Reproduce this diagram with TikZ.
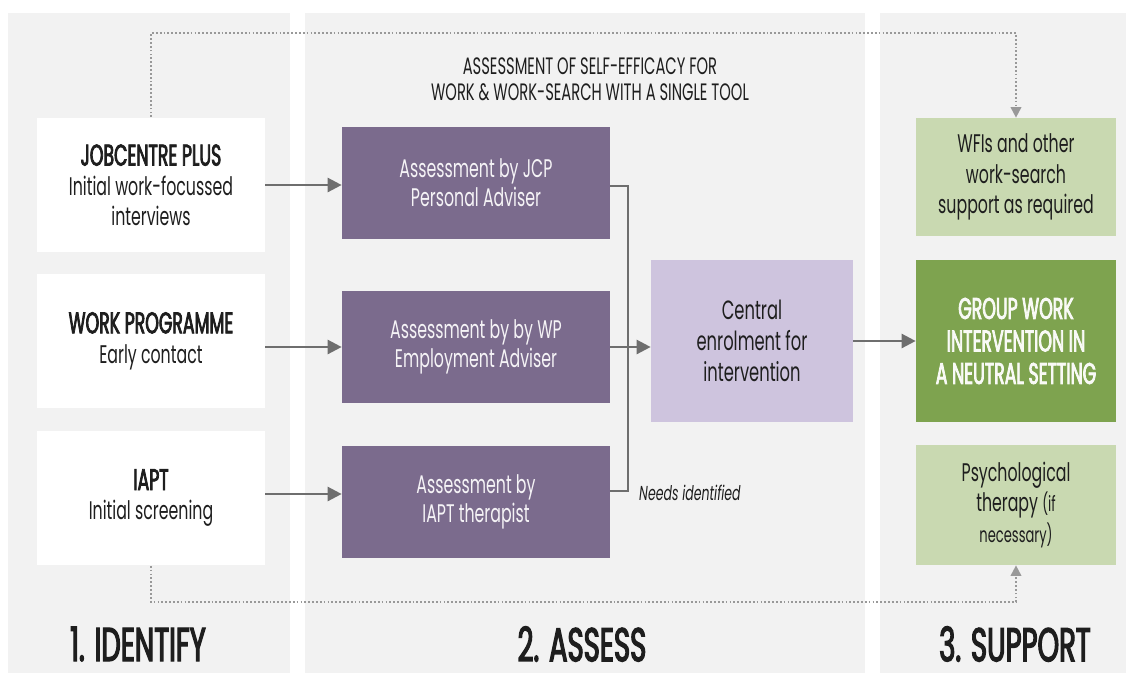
\documentclass[tikz,border=0pt]{standalone}
\usepackage{fontspec}
\setmainfont{Poppins}[FakeStretch=0.62]
\newfontfamily\medfont{Poppins}[FakeStretch=0.58, FakeBold=2.6]
\usetikzlibrary{arrows.meta,positioning}
\definecolor{panelgray}{HTML}{F2F2F2}
\definecolor{plum}{HTML}{7B6B8D}
\definecolor{lilac}{HTML}{CEC4DE}
\definecolor{sage}{HTML}{C9D9B1}
\definecolor{leaf}{HTML}{7EA34F}
\definecolor{linegray}{HTML}{6E6E6E}
\definecolor{ink}{HTML}{1E1E1E}
\newcommand\hd{\fontsize{17}{21}\medfont}

\begin{document}
\begin{tikzpicture}[x=0.02cm, y=-0.02cm,
        panel/.style = {fill=panelgray},
        whitebox/.style = {fill=white, minimum width=4.56cm, minimum height=2.7cm, align=center, text=ink, font=\fontsize{14.5}{17}\selectfont},
        plumbox/.style = {fill=plum, minimum width=5.36cm, minimum height=2.24cm, align=center, text=white!92!plum, font=\fontsize{14.5}{16.5}\selectfont},
        cenbox/.style = {fill=lilac, minimum width=4.04cm, minimum height=3.24cm, align=center, text=ink, font=\fontsize{15}{17.5}\selectfont},
        sagebox/.style = {fill=sage, minimum width=4cm, align=center, text=ink, font=\fontsize{14.5}{17.5}\selectfont},
        leafbox/.style = {fill=leaf, minimum width=4cm, minimum height=3.24cm, align=center, text=white!95!leaf, font=\fontsize{17}{18.5}\medfont},
        stage/.style = {text=ink, inner sep=0pt, font=\fontsize{27}{30}\medfont},
        flow/.style = {draw=linegray, line width=1.4pt, -{Triangle[length=8pt,width=8pt]}},
        plain/.style = {draw=linegray, line width=1.4pt},
        dotline/.style = {draw=linegray!70, line width=1pt, dash pattern=on 1pt off 1.2pt, -{Triangle[length=6pt,width=6pt]}},
        ]
        % background and the three columns
        \fill[white] (0,0) rectangle (1134,673);
        \fill[panel] (8,13) rectangle (290,673);
        \fill[panel] (305,13) rectangle (865,673);
        \fill[panel] (880,13) rectangle (1126,673);

        % 1. identify
        \node[whitebox](jcp) at (151,185) {{\hd JOBCENTRE PLUS}\\Initial work-focussed\\interviews};
        \node[whitebox](wp) at (151,341) {{\hd WORK PROGRAMME}\\Early contact};
        \node[whitebox](iapt) at (151,498) {{\hd IAPT}\\Initial screening};

        % 2. assess
        \node[align=center, text=ink, font=\fontsize{13.5}{15}\selectfont](ttl) at (590,79) {ASSESSMENT OF SELF-EFFICACY FOR\\WORK \& WORK-SEARCH WITH A SINGLE TOOL};
        \node[plumbox](pa) at (476,183) {Assessment by JCP\\Personal Adviser};
        \node[plumbox](pb) at (476,347) {Assessment by by WP\\Employment Adviser};
        \node[plumbox](pc) at (476,502) {Assessment by\\IAPT therapist};
        \node[cenbox](cen) at (752,341) {Central\\enrolment for\\intervention};
        \coordinate (bustop) at (628,186);
        \coordinate (busbot) at (628,491);
        \node[anchor=west, text=ink, font=\fontsize{11.5}{13}\selectfont\itshape](need) at (633,493) {Needs identified};

        % 3. support
        \node[sagebox, minimum height=2.36cm](wfi) at (1016,177) {WFIs and other\\work-search\\support as required};
        \node[leafbox](grp) at (1016,341) {GROUP WORK\\INTERVENTION IN\\A NEUTRAL SETTING};
        \node[sagebox, minimum height=2.4cm](psy) at (1016,505) {Psychological\\therapy {\fontsize{12}{15}\selectfont(if}\\{\fontsize{12}{15}\selectfont necessary)}};

        % stage labels
        \node[stage](s1) at (138,644) {1. IDENTIFY};
        \node[stage](s2) at (582,644) {2. ASSESS};
        \node[stage](s3) at (1015,644) {3. SUPPORT};

        % connectors
        \draw[flow] (jcp.east) -- (jcp.east -| pa.west);
        \draw[flow] (wp.east |- pb.east) -- (pb.west);
        \draw[flow] (iapt.east |- 0,494) -- (pc.west |- 0,494);
        \draw[plain] (pa.east |- bustop) -- (bustop) -- (busbot) -- (busbot -| pc.east);
        \draw[flow] (pb.east) -- (pb.east -| cen.west);
        \draw[flow] (cen.east) -- (grp.west);
        \draw[dotline] (jcp.north) -- ++(0,-84) -| (wfi.north);
        \draw[dotline] (iapt.south) -- ++(0,36) -| (psy.south);
\end{tikzpicture}
\end{document}
